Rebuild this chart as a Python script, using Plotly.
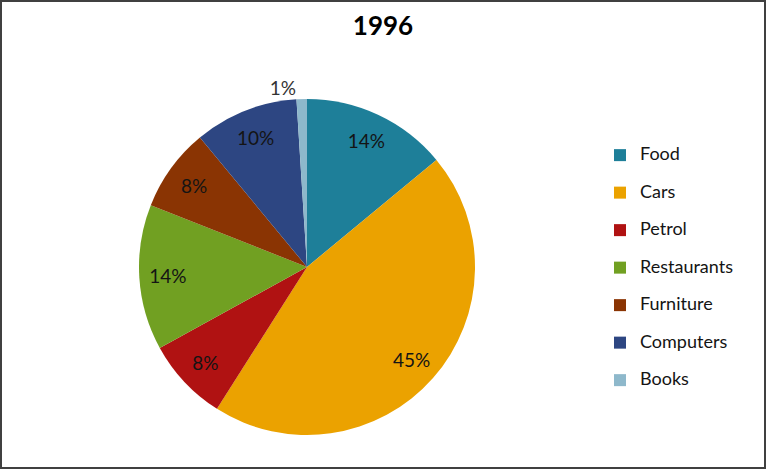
import plotly.graph_objects as go

title_text = "1996"
categories = ["Food", "Cars", "Petrol", "Restaurants", "Furniture", "Computers", "Books"]
values = [14, 45, 8, 14, 8, 10, 1]
colors = ["#1E7F99", "#EBA200", "#B01212", "#71A022", "#8A3403", "#2D4682", "#8EB8CB"]
text_positions = ["inside", "inside", "inside", "inside", "inside", "inside", "outside"]

W, H = 766, 469
FONT = "Lato"

# legend: bigger visible text inside a span, blank second line sets the item spacing
legend_labels = ["<span style='font-size:18px'>" + c + "</span><br> " for c in categories]

domain = dict(x=[139 / W, 475 / W], y=[1 - 435 / H, 1 - 99 / H])

# coloured slices (legend comes from here)
pie = go.Pie(
    labels=legend_labels,
    values=values,
    sort=False,
    direction="clockwise",
    rotation=0,
    marker=dict(colors=colors, line=dict(width=0)),
    textposition="none",
    hovertemplate="%{value}%<extra></extra>",
    domain=domain,
)

# transparent ring on top carries the percentage labels, placed near the outer rim
labels_ring = go.Pie(
    labels=legend_labels,
    values=values,
    sort=False,
    direction="clockwise",
    rotation=0,
    hole=0.66,
    showlegend=False,
    marker=dict(colors=["rgba(0,0,0,0)"] * len(values), line=dict(width=0)),
    texttemplate="%{value}%",
    textposition=text_positions,
    insidetextorientation="horizontal",
    insidetextfont=dict(family=FONT, size=19, color="#141414"),
    outsidetextfont=dict(family=FONT, size=19, color="#333333"),
    hoverinfo="skip",
    domain=domain,
)

fig = go.Figure([pie, labels_ring])

fig.update_layout(
    width=W,
    height=H,
    margin=dict(l=0, r=0, t=0, b=0),
    paper_bgcolor="white",
    plot_bgcolor="white",
    title=dict(
        text="<b>" + title_text + "</b>",
        x=383 / W,
        xanchor="center",
        y=1 - 26 / H,
        yanchor="middle",
        yref="container",
        font=dict(family=FONT, size=26, color="#000000"),
    ),
    legend=dict(
        x=600 / W,
        y=1 - 140 / H,
        xanchor="left",
        yanchor="top",
        valign="top",
        font=dict(family=FONT, size=13.27, color="#141414"),
        bgcolor="rgba(0,0,0,0)",
    ),
    shapes=[
        dict(
            type="rect",
            xref="paper",
            yref="paper",
            x0=0,
            x1=1,
            y0=0,
            y1=1,
            line=dict(color="#404040", width=4),
            fillcolor="rgba(0,0,0,0)",
        )
    ],
)

fig.write_html(
    "out.html",
    config={"displayModeBar": False},
    post_script="document.body.style.margin='0px';",
)
